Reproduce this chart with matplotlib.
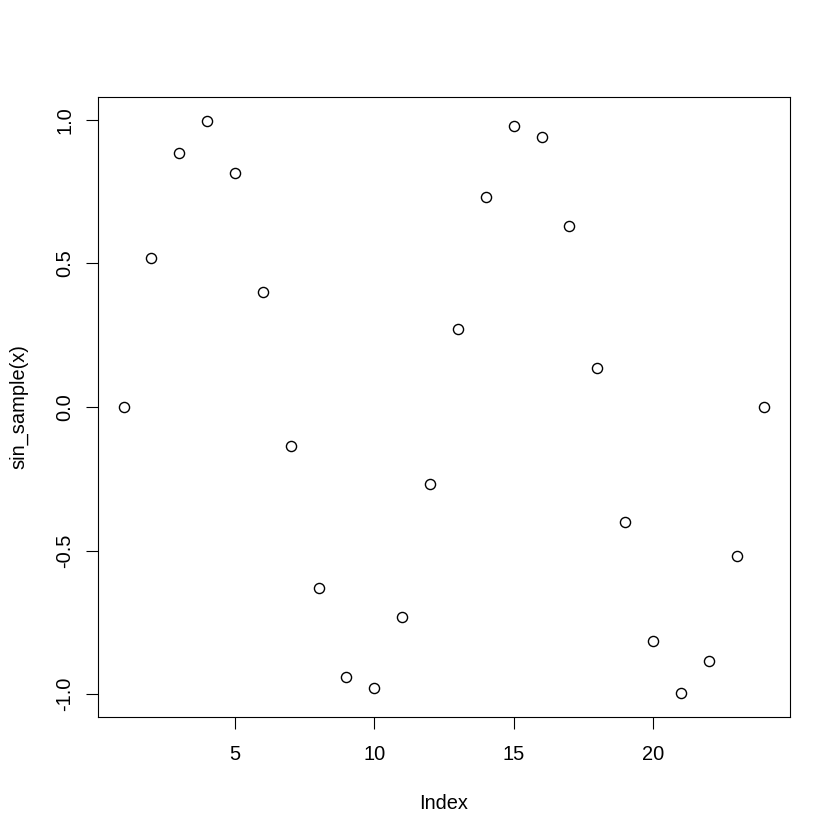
import matplotlib
matplotlib.use("Agg")
import matplotlib.pyplot as plt

# values
index = list(range(1, 25))
sin_values = [0.00, 0.52, 0.885, 0.997, 0.816, 0.40, -0.135, -0.63,
              -0.94, -0.98, -0.73, -0.27, 0.27, 0.73, 0.98, 0.94,
              0.63, 0.135, -0.40, -0.816, -0.997, -0.885, -0.52, 0.00]
x_ticks = [5, 10, 15, 20]
y_ticks = [-1.0, -0.5, 0.0, 0.5, 1.0]

plt.rcParams["font.family"] = ["Liberation Sans", "DejaVu Sans"]
plt.rcParams["font.size"] = 14.4

fig = plt.figure(figsize=(8.4, 8.4), dpi=100)
ax = fig.add_axes([98 / 840, 1 - 717 / 840, 692 / 840, 620 / 840])

ax.plot(index, sin_values, linestyle="none", marker="o", markersize=7.3,
        markerfacecolor="none", markeredgecolor="black", markeredgewidth=1.0)

# R style 4% padding
ax.set_xlim(1 - 0.04 * 23, 24 + 0.04 * 23)
ax.set_ylim(-1.08, 1.08)

ax.set_xticks(x_ticks)
ax.set_yticks(y_ticks)
ax.set_yticklabels([f"{v:.1f}" for v in y_ticks], rotation=90, va="center")
ax.tick_params(direction="out", length=8.6, width=0.8, labelsize=14.4)
ax.tick_params(axis="x", pad=11.5)
ax.tick_params(axis="y", pad=8.5)

for s in ax.spines.values():
    s.set_linewidth(0.8)

ax.set_xlabel("Index", labelpad=22)
ax.set_ylabel("sin_sample(x)", labelpad=19.5)

fig.savefig("out.png", dpi=100)
